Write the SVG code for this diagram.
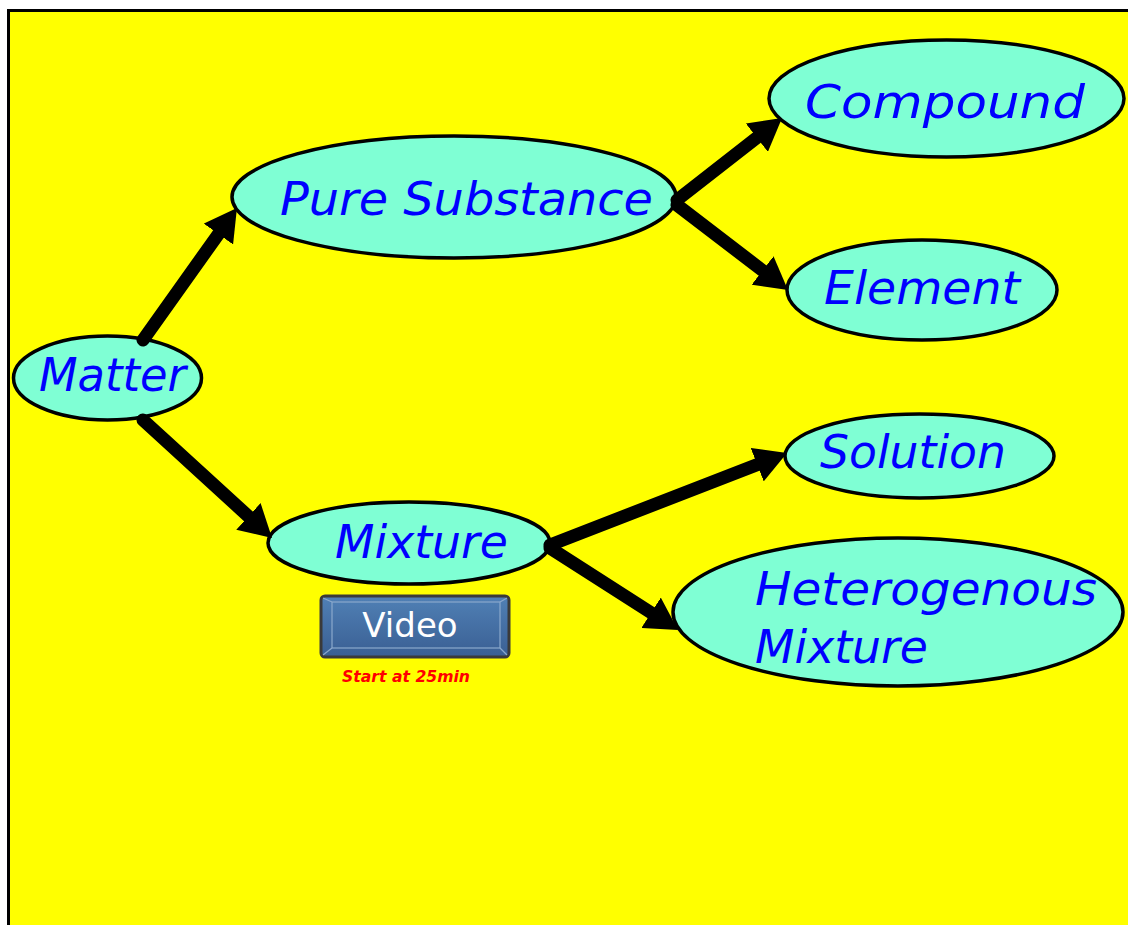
<svg xmlns="http://www.w3.org/2000/svg" width="1128" height="925" viewBox="0 0 1128 925">
<style>
.node{fill:#7FFFD4;stroke:#000;stroke-width:3.5}
.lbl{font-family:"DejaVu Sans","Liberation Sans",sans-serif;font-style:italic;font-size:46px;fill:#0000FF}
.conn{stroke:#000;stroke-width:13;stroke-linecap:round;fill:none;marker-end:url(#ah)}
</style>
<defs>
<marker id="ah" markerUnits="userSpaceOnUse" markerWidth="34" markerHeight="36" refX="10" refY="18" orient="auto">
<path d="M0,0 L32,18 L0,36 Z" fill="#000"/>
</marker>
<linearGradient id="btn" x1="0" y1="0" x2="0" y2="1">
<stop offset="0" stop-color="#5080b5"/>
<stop offset="1" stop-color="#3a5f93"/>
</linearGradient>
</defs>
<rect x="0" y="0" width="1128" height="925" fill="#fff"/>
<rect x="8.5" y="10.5" width="1200" height="1000" fill="#FFFF00" stroke="#000" stroke-width="3"/>

<g id="node-matter">
<ellipse class="node" cx="107.5" cy="378" rx="94" ry="42"/>
<text class="lbl" x="39" y="391" textLength="147" lengthAdjust="spacingAndGlyphs">Matter</text>
</g>
<g id="node-pure">
<ellipse class="node" cx="454" cy="197" rx="222" ry="61"/>
<text class="lbl" x="280" y="215" textLength="373" lengthAdjust="spacingAndGlyphs">Pure Substance</text>
</g>
<g id="node-compound">
<ellipse class="node" cx="946.5" cy="98.5" rx="177.5" ry="58.5"/>
<text class="lbl" x="805" y="118" textLength="280" lengthAdjust="spacingAndGlyphs">Compound</text>
</g>
<g id="node-element">
<ellipse class="node" cx="922" cy="290" rx="135" ry="50"/>
<text class="lbl" x="824" y="304" textLength="196" lengthAdjust="spacingAndGlyphs">Element</text>
</g>
<g id="node-solution">
<ellipse class="node" cx="919.5" cy="456" rx="134.5" ry="42"/>
<text class="lbl" x="820" y="468" textLength="186" lengthAdjust="spacingAndGlyphs">Solution</text>
</g>
<g id="node-mixture">
<ellipse class="node" cx="409" cy="543" rx="141" ry="41"/>
<text class="lbl" x="335" y="558" textLength="173" lengthAdjust="spacingAndGlyphs">Mixture</text>
</g>
<g id="node-hetero">
<ellipse class="node" cx="898" cy="612" rx="225" ry="74"/>
<text class="lbl" x="755" y="605" textLength="342" lengthAdjust="spacingAndGlyphs">Heterogenous</text>
<text class="lbl" x="755" y="663" textLength="173" lengthAdjust="spacingAndGlyphs">Mixture</text>
</g>

<g id="connectors">
<line class="conn" x1="143" y1="340" x2="224.2" y2="225.9"/>
<line class="conn" x1="143" y1="420" x2="255.8" y2="523.1"/>
<line class="conn" x1="677" y1="200" x2="764.7" y2="131.5"/>
<line class="conn" x1="677" y1="205" x2="770.5" y2="276.6"/>
<line class="conn" x1="550" y1="545" x2="766.5" y2="461"/>
<line class="conn" x1="550" y1="548" x2="659.5" y2="618.1"/>
</g>

<g id="video-button">
<rect x="321" y="596" width="188" height="61" rx="4" fill="url(#btn)" stroke="#3a3a3a" stroke-width="3"/>
<rect x="332" y="602" width="168" height="46" fill="none" stroke="#8aa8cc" stroke-width="1.2"/>
<line x1="323" y1="598" x2="332" y2="602" stroke="#8aa8cc" stroke-width="1.2"/>
<line x1="507" y1="598" x2="500" y2="602" stroke="#8aa8cc" stroke-width="1.2"/>
<line x1="323" y1="655" x2="332" y2="648" stroke="#8aa8cc" stroke-width="1.2"/>
<line x1="507" y1="655" x2="500" y2="648" stroke="#8aa8cc" stroke-width="1.2"/>
<text x="410" y="637" text-anchor="middle" font-family="DejaVu Sans, sans-serif" font-size="34" fill="#fff">Video</text>
</g>
<text x="342" y="682" font-family="DejaVu Sans, sans-serif" font-style="italic" font-weight="bold" font-size="16" fill="#FF0000" textLength="128" lengthAdjust="spacingAndGlyphs">Start at 25min</text>
</svg>
